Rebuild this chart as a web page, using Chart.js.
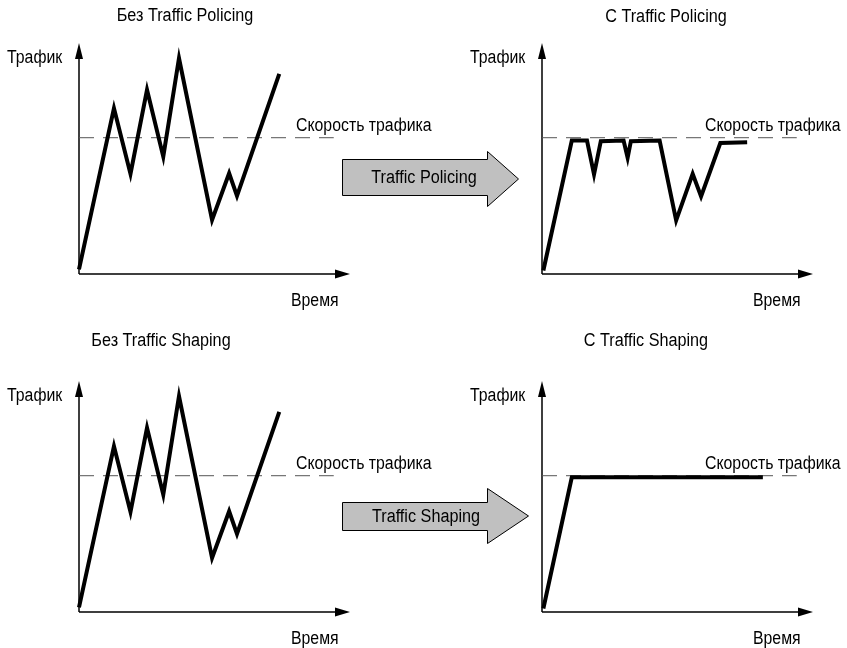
<!DOCTYPE html>
<html>
<head>
<meta charset="utf-8">
<script src="https://cdn.jsdelivr.net/npm/chart.js@4"></script>
<style>
  body { margin: 0; background: #fff; }
  #page { position: relative; width: 847px; height: 648px; overflow: hidden;
          font-family: "Liberation Sans", Arial, sans-serif;
          font-size: 18px; color: #000; }
  canvas { position: absolute; }
  .lbl { position: absolute; line-height: 18px; white-space: nowrap;
         transform: scaleX(0.88); transform-origin: left center; }
  .ttl, .arrowText { position: absolute; line-height: 18px; white-space: nowrap;
         transform: translateX(-50%) scaleX(0.9); transform-origin: center center; }
  .arrow { position: absolute; left: 0; top: 0; }
</style>
</head>
<body>
<div id="page">
  <canvas id="chartNoPolicing" width="300" height="260" style="left:59px;top:30px"></canvas>
  <canvas id="chartPolicing" width="300" height="260" style="left:522px;top:30px"></canvas>
  <canvas id="chartNoShaping" width="300" height="260" style="left:59px;top:368px"></canvas>
  <canvas id="chartShaping" width="300" height="260" style="left:522px;top:368px"></canvas>

  <svg class="arrow" width="847" height="648">
    <polygon points="342.5,159.5 487.5,159.5 487.5,151.5 518.5,179 487.5,206.5 487.5,195.5 342.5,195.5"
             fill="#c0c0c0" stroke="#000" stroke-width="1"/>
    <polygon points="342.5,502.5 487.5,502.5 487.5,488.5 528.5,516 487.5,543.5 487.5,530.5 342.5,530.5"
             fill="#c0c0c0" stroke="#000" stroke-width="1"/>
  </svg>

  <div class="ttl" style="left:185px;top:6px">Без Traffic Policing</div>
  <div class="ttl" style="left:666px;top:7px">С Traffic Policing</div>
  <div class="ttl" style="left:161px;top:331px">Без Traffic Shaping</div>
  <div class="ttl" style="left:646px;top:331px">С Traffic Shaping</div>

  <div class="lbl" style="left:7px;top:48px">Трафик</div>
  <div class="lbl" style="left:296px;top:116px">Скорость трафика</div>
  <div class="lbl" style="left:291px;top:291px">Время</div>

  <div class="lbl" style="left:470px;top:48px">Трафик</div>
  <div class="lbl" style="left:705px;top:116px">Скорость трафика</div>
  <div class="lbl" style="left:753px;top:291px">Время</div>

  <div class="lbl" style="left:7px;top:386px">Трафик</div>
  <div class="lbl" style="left:296px;top:454px">Скорость трафика</div>
  <div class="lbl" style="left:291px;top:629px">Время</div>

  <div class="lbl" style="left:470px;top:386px">Трафик</div>
  <div class="lbl" style="left:705px;top:454px">Скорость трафика</div>
  <div class="lbl" style="left:753px;top:629px">Время</div>

  <div class="arrowText" style="left:424px;top:168px">Traffic Policing</div>
  <div class="arrowText" style="left:426px;top:507px">Traffic Shaping</div>
</div>

<script>
// время и трафик без ограничений (одинаково для обоих левых графиков)
const timeNoLimit = [0, 12.9, 19, 25.1, 31.1, 36.9, 49.1, 55.4, 58.3, 73.9]
const trafficNoLimit = [2, 71.7, 43.3, 79.7, 50.8, 93.4, 23.4, 43.6, 33.8, 86.6]

// трафик после policing
const timePolicing = [0.5, 11, 16.6, 19.2, 21.7, 30.1, 31.6, 32.8, 43.4, 49.5, 55.6, 58.7, 65.8, 75.7]
const trafficPolicing = [1.5, 57.8, 57.8, 43.1, 57.5, 57.8, 50.3, 57.5, 57.8, 23.2, 43.4, 33.6, 56.7, 57]

// трафик после shaping
const timeShaping = [0.5, 11, 81.5]
const trafficShaping = [1.5, 58.3, 58.3]

// скорость трафика (пунктир)
const rateLimit = 59
const rateTime = [0, 94]

/**
 * Рисует оси со стрелками по шкалам графика.
 */
const axisArrows = {
    id: 'axisArrows',
    beforeDatasetsDraw(chart) {
        const ctx = chart.ctx
        const xs = chart.scales.x, ys = chart.scales.y
        const x0 = xs.getPixelForValue(0), y0 = ys.getPixelForValue(0)
        const xEnd = xs.getPixelForValue(100), yEnd = ys.getPixelForValue(100)
        ctx.save()
        ctx.strokeStyle = '#000'
        ctx.fillStyle = '#000'
        ctx.lineWidth = 1.5
        ctx.beginPath()
        ctx.moveTo(x0, y0)
        ctx.lineTo(x0, yEnd + 10)
        ctx.moveTo(x0, y0)
        ctx.lineTo(xEnd - 10, y0)
        ctx.stroke()
        // стрелка вверх
        ctx.beginPath()
        ctx.moveTo(x0, yEnd)
        ctx.lineTo(x0 - 4, yEnd + 16)
        ctx.lineTo(x0 + 4, yEnd + 16)
        ctx.closePath()
        ctx.fill()
        // стрелка вправо
        ctx.beginPath()
        ctx.moveTo(xEnd, y0)
        ctx.lineTo(xEnd - 15, y0 - 4.5)
        ctx.lineTo(xEnd - 15, y0 + 4.5)
        ctx.closePath()
        ctx.fill()
        ctx.restore()
    }
}

function makeChart(id, times, traffic) {
    const trafficPoints = times.map((t, i) => ({ x: t, y: traffic[i] }))
    const ratePoints = rateTime.map(t => ({ x: t, y: rateLimit }))
    return new Chart(document.querySelector(id), {
        type: 'line',
        data: {
            datasets: [{
                data: trafficPoints,
                borderColor: '#000',
                borderWidth: 4,
                borderJoinStyle: 'miter',
                pointRadius: 0,
                tension: 0,
                clip: false
            }, {
                data: ratePoints,
                borderColor: '#555',
                borderWidth: 1,
                borderDash: [15, 9],
                pointRadius: 0,
                clip: false
            }]
        },
        options: {
            responsive: false,
            animation: false,
            layout: { padding: { left: 20, right: 9, top: 13, bottom: 16 } },
            scales: {
                x: { type: 'linear', min: 0, max: 100, display: false },
                y: { min: 0, max: 100, display: false }
            },
            plugins: {
                legend: { display: false },
                tooltip: { enabled: false }
            }
        },
        plugins: [axisArrows]
    })
}

makeChart('#chartNoPolicing', timeNoLimit, trafficNoLimit)
makeChart('#chartPolicing', timePolicing, trafficPolicing)
makeChart('#chartNoShaping', timeNoLimit, trafficNoLimit)
makeChart('#chartShaping', timeShaping, trafficShaping)
</script>
</body>
</html>
